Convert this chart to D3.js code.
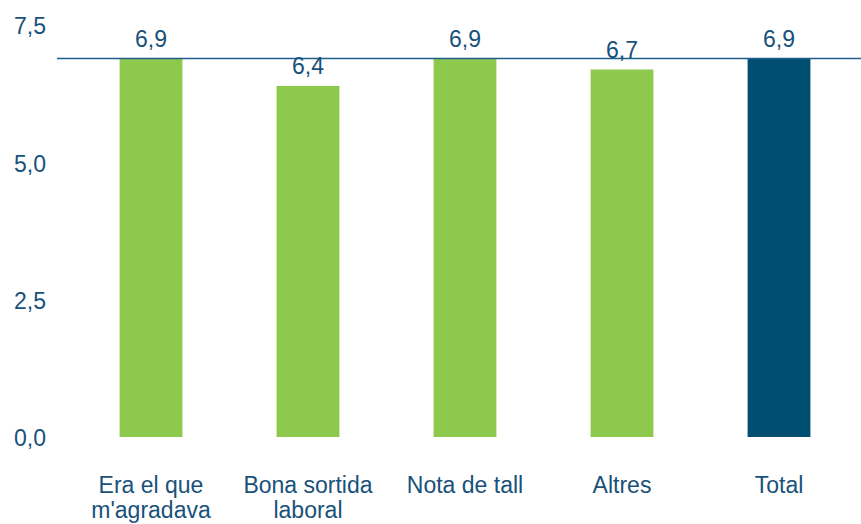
<!DOCTYPE html>
<html>
<head>
<meta charset="utf-8">
<script src="https://cdn.jsdelivr.net/npm/d3@7"></script>
<style>
  body { margin: 0; background: #fff; }
  svg { display: block; font-family: 'Liberation Sans', Arial, sans-serif; }
</style>
</head>
<body>
<svg></svg>
<script>
let categories = [["Era el que", "m'agradava"], ["Bona sortida", "laboral"], ["Nota de tall"], ["Altres"], ["Total"]]
let values = [6.9, 6.4, 6.9, 6.7, 6.9]
let valueLabels = ['6,9', '6,4', '6,9', '6,7', '6,9']
let yTicks = [0, 2.5, 5, 7.5]
let yTickLabels = ['0,0', '2,5', '5,0', '7,5']
let refValue = 6.9

let width = 861
let height = 524
let textColor = '#18517a'
let green = '#8dc94d'
let navy = '#004e72'
let fontSize = '23px'

let svg = d3.select('svg')
  .attr('width', width)
  .attr('height', height)

let xScale = d3.scaleBand()
  .domain(d3.range(values.length))
  .range([72.5, 857.5])
  .paddingInner(0.6)
  .paddingOuter(0.3)

let yScale = d3.scaleLinear()
  .domain([0, 7.5])
  .range([437, 25.6])

// y tick labels, no axis line
let yAxis = d3.axisLeft(yScale)
  .tickValues(yTicks)
  .tickFormat((d, i) => yTickLabels[i])
  .tickSize(0)
  .tickPadding(0)

let yG = svg.append('g')
  .attr('transform', 'translate(46, 0)')
  .call(yAxis)
yG.select('.domain').remove()
yG.selectAll('text')
  .attr('fill', textColor)
  .attr('dy', '0.36em')
  .style('font-size', fontSize)
  .style('font-family', "'Liberation Sans', Arial, sans-serif")

// bars
svg.selectAll('rect.bar')
  .data(values)
  .enter()
  .append('rect')
  .attr('class', 'bar')
  .attr('x', (d, i) => xScale(i))
  .attr('width', xScale.bandwidth())
  .attr('y', (d) => yScale(d))
  .attr('height', (d) => yScale(0) - yScale(d))
  .attr('fill', (d, i) => i === values.length - 1 ? navy : green)

// reference line at total
svg.append('line')
  .attr('x1', 57)
  .attr('x2', width)
  .attr('y1', yScale(refValue))
  .attr('y2', yScale(refValue))
  .attr('stroke', '#1d5e8a')
  .attr('stroke-width', 1.5)

// value labels
svg.selectAll('text.value')
  .data(values)
  .enter()
  .append('text')
  .attr('class', 'value')
  .attr('x', (d, i) => xScale(i) + xScale.bandwidth() / 2)
  .attr('y', (d) => yScale(d) - 11.5)
  .attr('text-anchor', 'middle')
  .attr('fill', textColor)
  .style('font-size', fontSize)
  .text((d, i) => valueLabels[i])

// category labels
let catG = svg.selectAll('text.cat')
  .data(categories)
  .enter()
  .append('text')
  .attr('class', 'cat')
  .attr('text-anchor', 'middle')
  .attr('fill', textColor)
  .style('font-size', fontSize)

catG.selectAll('tspan')
  .data((d, i) => d.map((line) => ({ line: line, i: i })))
  .enter()
  .append('tspan')
  .attr('x', (d) => xScale(d.i) + xScale.bandwidth() / 2)
  .attr('y', (d, j) => 493 + j * 25)
  .text((d) => d.line)
</script>
</body>
</html>
